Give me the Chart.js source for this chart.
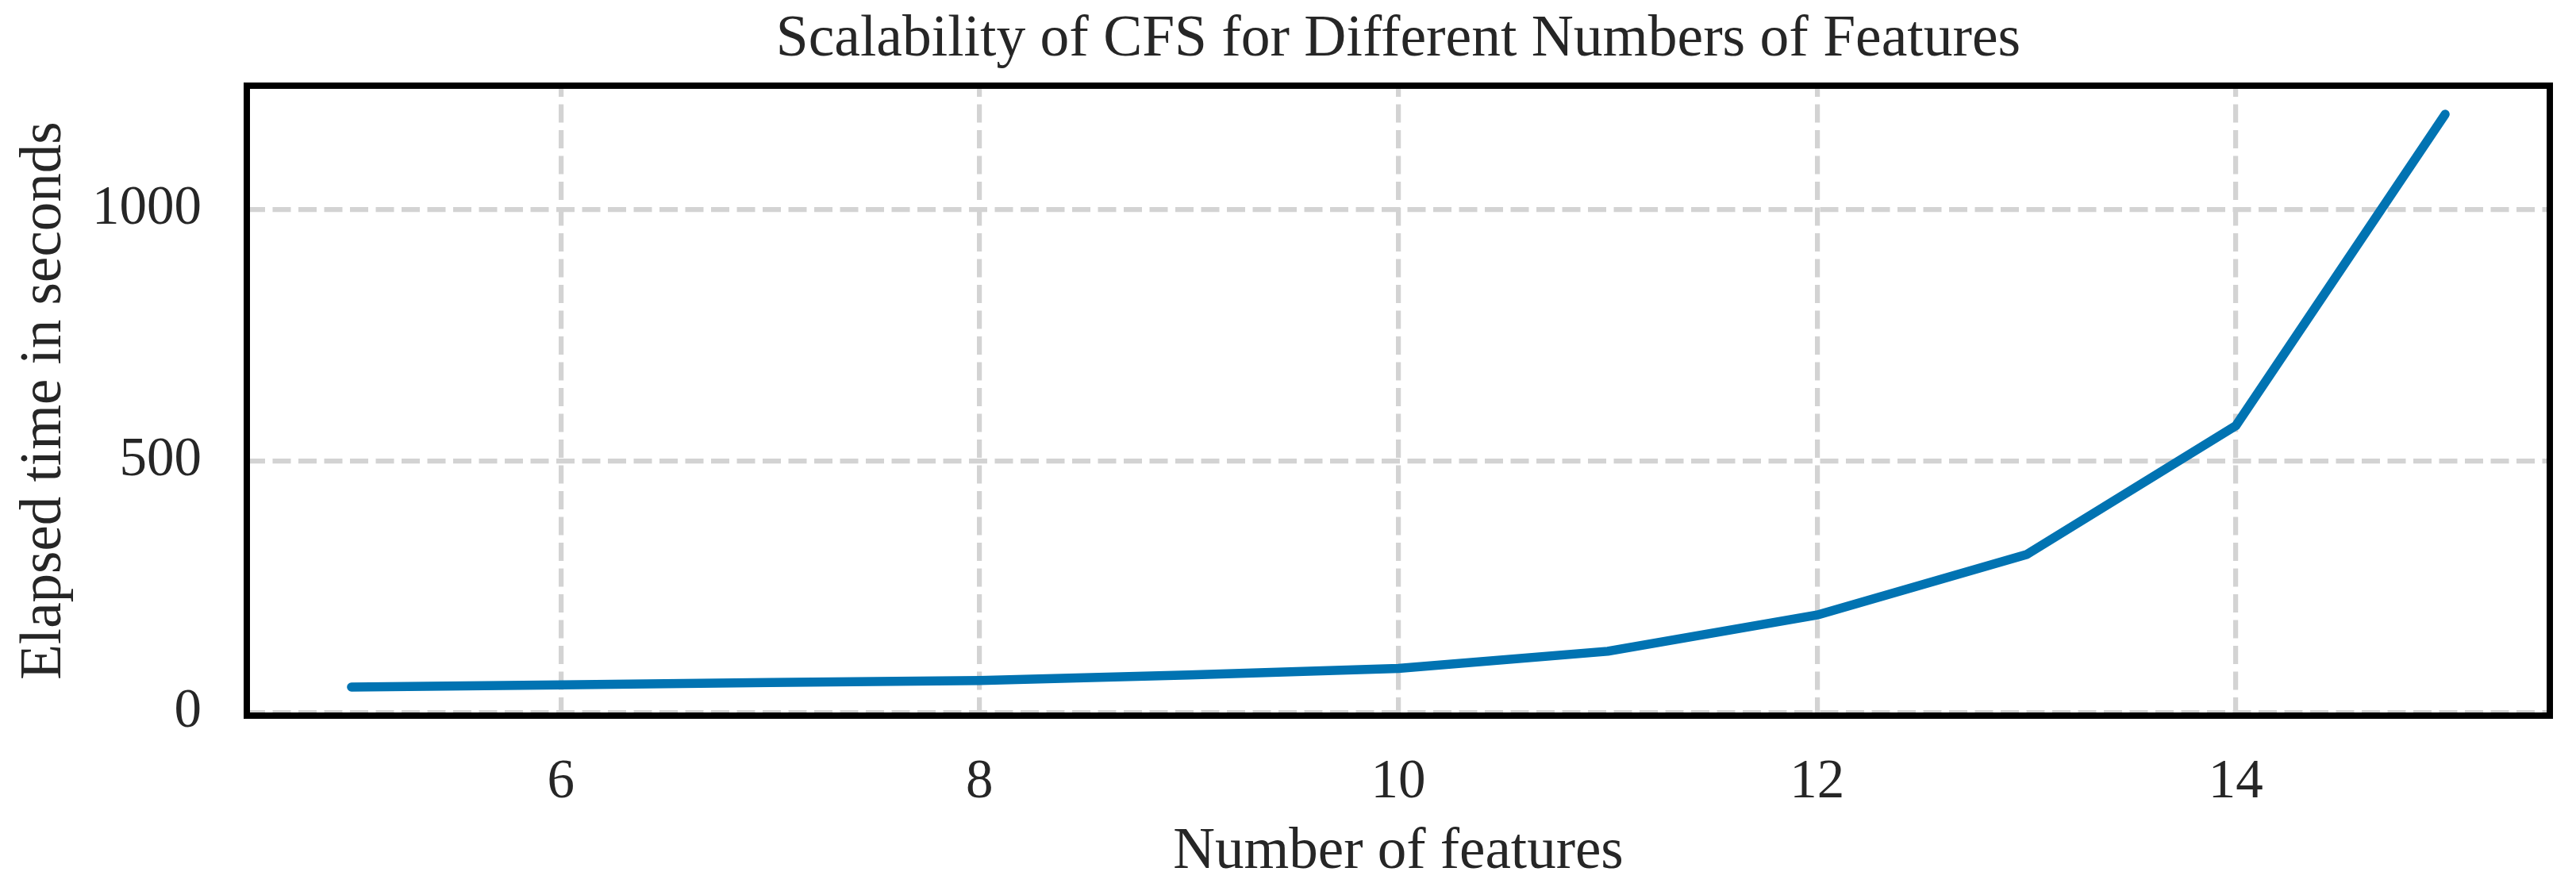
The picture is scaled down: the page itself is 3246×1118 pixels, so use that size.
<!DOCTYPE html>
<html>
<head>
<meta charset="utf-8">
<script src="https://cdn.jsdelivr.net/npm/chart.js@4.4.0/dist/chart.umd.min.js"></script>
<style>
  html, body { margin: 0; padding: 0; background: #fff; }
  #wrap { width: 3246px; height: 1118px; }
</style>
</head>
<body>
<div id="wrap"><canvas id="scalability" width="3246" height="1118"></canvas></div>
<script>
const numFeatures = [5, 6, 7, 8, 9, 10, 11, 12, 13, 14, 15]
const elapsedSeconds = [51, 55, 60, 64, 75, 88, 122, 194, 314, 570, 1189]
const xTicks = [6, 8, 10, 12, 14]
const yTicks = [0, 500, 1000]

const chartTitle = 'Scalability of CFS for Different Numbers of Features'
const xLabel = 'Number of features'
const yLabel = 'Elapsed time in seconds'

const serif = "'Liberation Serif', 'Times New Roman', serif"
const textColor = '#262626'
const gridColor = '#d3d3d3'

// black box around the plot area, drawn on top of the grid
const frame = {
  id: 'frame',
  afterDraw(chart) {
    const { ctx, chartArea: a } = chart
    ctx.save()
    ctx.strokeStyle = '#000'
    ctx.lineWidth = 8
    ctx.strokeRect(a.left, a.top, a.right - a.left, a.bottom - a.top)
    ctx.restore()
  }
}

const points = numFeatures.map((x, i) => ({ x: x, y: elapsedSeconds[i] }))

// 5% padding above and below the data, like the original plot
const yMin = Math.min(...elapsedSeconds)
const yMax = Math.max(...elapsedSeconds)
const yPad = (yMax - yMin) * 0.05

new Chart(document.getElementById('scalability'), {
  type: 'line',
  data: {
    datasets: [{
      data: points,
      borderColor: '#0173b2',
      borderWidth: 11.5,
      borderCapStyle: 'round',
      borderJoinStyle: 'round',
      pointRadius: 0,
      tension: 0,
      fill: false
    }]
  },
  options: {
    responsive: false,
    devicePixelRatio: 1,
    animation: false,
    layout: { padding: { left: 0, right: 33, top: 0, bottom: 0 } },
    plugins: {
      legend: { display: false },
      tooltip: { enabled: false },
      title: {
        display: true,
        text: chartTitle,
        fullSize: false,
        color: textColor,
        font: { family: serif, size: 73.5, weight: 'normal', lineHeight: 1 },
        padding: { top: 13.5, bottom: 21 }
      }
    },
    scales: {
      x: {
        type: 'linear',
        min: 4.5,
        max: 15.5,
        afterBuildTicks: (s) => { s.ticks = xTicks.map(v => ({ value: v })) },
        afterFit: (s) => { s.height = 216 },
        grid: { color: gridColor, lineWidth: 6.2, drawTicks: false },
        border: { display: false, dash: [23, 9.5], dashOffset: 9 },
        ticks: {
          color: textColor,
          padding: 50.5,
          maxRotation: 0,
          font: { family: serif, size: 69, lineHeight: 1 },
          callback: (v) => String(v)
        },
        title: {
          display: true,
          text: xLabel,
          color: textColor,
          font: { family: serif, size: 73, lineHeight: 1 },
          padding: { top: 0, bottom: 6.5 }
        }
      },
      y: {
        type: 'linear',
        min: yMin - yPad,
        max: yMax + yPad,
        afterBuildTicks: (s) => { s.ticks = yTicks.map(v => ({ value: v })) },
        afterFit: (s) => { s.width = 311 },
        grid: { color: gridColor, lineWidth: 6.2, drawTicks: false },
        border: { display: false, dash: [23, 9.5], dashOffset: 0 },
        ticks: {
          color: textColor,
          padding: 57,
          font: { family: serif, size: 69, lineHeight: 1 },
          callback: (v) => String(v)
        },
        title: {
          display: true,
          text: yLabel,
          color: textColor,
          font: { family: serif, size: 73, lineHeight: 1 },
          padding: { top: 20.5, bottom: 0 }
        }
      }
    }
  },
  plugins: [frame]
})
</script>
</body>
</html>
